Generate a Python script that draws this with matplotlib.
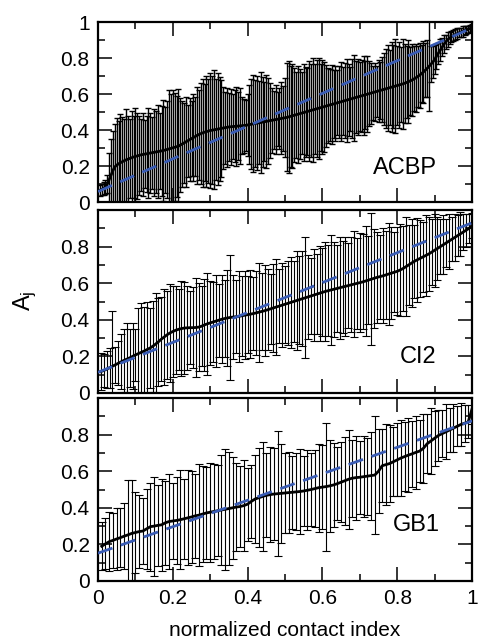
import numpy as np
import matplotlib
matplotlib.use("Agg")
import matplotlib.pyplot as plt
from matplotlib.ticker import MultipleLocator, FixedLocator

plt.rcParams['font.family'] = ['Liberation Sans', 'DejaVu Sans']

# ---------------- data ----------------
acbp_mean = [
    .065, .07, .075, .085, .10, .125, .15, .175, .195, .205, .212, .218, .224, .229, .234, .238, .242, .246, .25, .253,
    .256, .259, .262, .264, .266, .268, .27, .272, .274, .276, .278, .28, .282, .284, .286, .289, .292, .295, .298, .301,
    .304, .307, .31, .316, .322, .328, .334, .34, .346, .352, .358, .364, .37, .375, .38, .384, .388, .391, .394, .397,
    .399, .401, .403, .405, .407, .409, .411, .413, .415, .417, .418, .419, .42, .421, .422, .423, .424, .425, .426, .428,
    .43, .432, .434, .436, .438, .44, .442, .444, .446, .448, .45, .452, .454, .456, .458, .46, .462, .464, .466, .468,
    .47, .473, .476, .479, .482, .485, .488, .491, .494, .497, .50, .503, .506, .509, .512, .515, .518, .521, .524, .527,
    .53, .533, .536, .539, .542, .545, .548, .551, .554, .557, .56, .563, .566, .569, .572, .575, .578, .581, .584, .587,
    .59, .593, .596, .599, .602, .605, .608, .611, .614, .617, .62, .623, .626, .629, .632, .635, .638, .641, .644, .647,
    .65, .653, .656, .66, .664, .668, .673, .678, .684, .69, .697, .705, .713, .722, .732, .742, .753, .765, .777, .79,
    .81, .826, .843, .86, .876, .89, .902, .911, .918, .924, .93, .935, .94, .944, .948, .952, .956, .96, .964, .968,
]
acbp_err = [
    .03, .03, .035, .04, .05, .15, .2, .22, .24, .26, .24, .27, .25, .23, .28, .24, .22, .26, .23, .27,
    .24, .22, .2, .23, .19, .21, .25, .22, .2, .24, .23, .26, .21, .25, .28, .24, .27, .33, .3, .32,
    .3, .28, .32, .26, .24, .22, .25, .2, .23, .21, .24, .22, .27, .25, .28, .3, .27, .31, .29, .32,
    .3, .33, .28, .31, .29, .27, .23, .2, .22, .19, .21, .18, .2, .22, .19, .21, .16, .15, .14, .17,
    .22, .25, .27, .24, .26, .23, .28, .25, .22, .26, .24, .21, .18, .16, .19, .15, .17, .2, .18, .22,
    .3, .31, .28, .29, .26, .24, .27, .25, .23, .27, .25, .24, .28, .26, .29, .25, .27, .28, .24, .26,
    .25, .23, .21, .2, .22, .19, .21, .18, .2, .22, .19, .21, .23, .2, .18, .22, .24, .2, .21, .19,
    .2, .22, .19, .21, .18, .17, .15, .16, .14, .17, .16, .18, .2, .22, .24, .21, .25, .23, .26, .22,
    .24, .21, .25, .22, .2, .23, .19, .2, .18, .19, .17, .18, .16, .17, .15, .16, .25, .1, .09, .08,
    .07, .06, .06, .05, .05, .04, .04, .035, .03, .03, .03, .03, .025, .025, .03, .025, .02, .02, .02, .02,
]

ci2_mean = [
    .117, .123, .13, .138, .146, .154, .162, .17, .178, .185, .192, .2, .208,
    .215, .222, .229, .237, .245, .255, .267, .28, .294, .306, .318, .328, .336,
    .343, .348, .352, .355, .356, .357, .357, .358, .36, .365, .372, .378, .383,
    .388, .393, .398, .403, .407, .41, .413, .415, .417, .419, .422, .425, .428,
    .431, .434, .438, .442, .446, .45, .455, .46, .465, .47, .475, .48, .485,
    .49, .495, .5, .505, .51, .515, .52, .525, .53, .535, .54, .545, .55,
    .555, .559, .563, .567, .571, .575, .579, .583, .587, .591, .595, .599, .603,
    .607, .612, .617, .622, .627, .632, .636, .64, .645, .65, .655, .66, .665,
    .672, .68, .69, .7, .71, .72, .728, .736, .744, .752, .76, .77, .78,
    .79, .8, .81, .82, .83, .84, .85, .86, .87, .88, .89, .9, .915,
]
ci2_err = [
    .1, .09, .1, .11, .3, .1, .12, .15, .17, .2, .16, .18, .14,
    .25, .27, .24, .26, .22, .25, .28, .24, .23, .26, .24, .27, .25,
    .24, .22, .26, .25, .23, .2, .22, .27, .24, .22, .25, .28, .23,
    .22, .25, .2, .24, .21, .26, .34, .23, .2, .25, .22, .24, .21,
    .24, .2, .23, .27, .21, .25, .22, .19, .24, .26, .2, .23, .21,
    .23, .25, .22, .27, .24, .26, .33, .23, .21, .25, .22, .26, .24,
    .27, .25, .3, .26, .24, .28, .25, .27, .23, .26, .29, .25, .27,
    .26, .3, .24, .36, .27, .25, .23, .26, .24, .28, .25, .22, .24,
    .25, .23, .27, .22, .24, .2, .23, .21, .19, .22, .2, .18, .2,
    .17, .15, .16, .13, .15, .12, .13, .11, .12, .1, .09, .08, .07,
]

gb1_mean = [
    .19, .203, .215, .222, .23, .237, .245, .252, .26, .265,
    .27, .273, .285, .297, .3, .304, .307, .318, .325, .328,
    .331, .335, .34, .345, .35, .356, .36, .366, .372, .376,
    .38, .384, .388, .392, .396, .4, .404, .407, .412, .42,
    .435, .448, .455, .462, .468, .472, .475, .477, .479, .481,
    .483, .485, .487, .489, .492, .496, .5, .505, .51, .513,
    .516, .52, .525, .532, .54, .548, .556, .562, .565, .567,
    .57, .573, .576, .579, .6, .63, .636, .642, .652, .662,
    .672, .68, .688, .695, .703, .71, .725, .75, .765, .78,
    .795, .805, .815, .825, .835, .845, .855, .862, .87, .94,
]
gb1_err = [
    .13, .14, .16, .15, .17, .16, .18, .3, .29, .22,
    .2, .18, .22, .24, .27, .22, .25, .23, .26, .21,
    .24, .27, .22, .26, .25, .23, .28, .26, .25, .27,
    .26, .25, .3, .33, .31, .28, .24, .22, .25, .2,
    .2, .24, .27, .3, .23, .26, .25, .34, .27, .22,
    .22, .2, .21, .23, .19, .22, .2, .21, .24, .23,
    .35, .25, .23, .2, .22, .24, .27, .21, .23, .2,
    .22, .21, .24, .32, .23, .2, .22, .21, .19, .2,
    .21, .19, .2, .18, .2, .17, .19, .16, .18, .15,
    .14, .13, .15, .12, .13, .11, .12, .1, .09, .08,
]

# linear fits: values at x = 0 and x = 1
fit_x = [0.0, 1.0]
acbp_fit = [0.058, 0.967]
ci2_fit = [0.113, 0.93]
gb1_fit = [0.152, 0.875]

panel_names = ["ACBP", "CI2", "GB1"]
xtick_vals = [0, 0.2, 0.4, 0.6, 0.8, 1.0]
xtick_labels = ["0", "0.2", "0.4", "0.6", "0.8", "1"]
ytick_vals_top = [0, 0.2, 0.4, 0.6, 0.8, 1.0]
ytick_labels_top = ["0", "0.2", "0.4", "0.6", "0.8", "1"]
ytick_vals = [0, 0.2, 0.4, 0.6, 0.8]
ytick_labels = ["0", "0.2", "0.4", "0.6", "0.8"]

# ---------------- figure ----------------
W, H = 478, 639
fig = plt.figure(figsize=(W / 100, H / 100), dpi=100)

def frac(left, top, right, bottom):
    return [left / W, 1 - bottom / H, (right - left) / W, (bottom - top) / H]

R = 472
ax1 = fig.add_axes(frac(98, 22, R, 202))
ax2 = fig.add_axes(frac(98, 210, R, 393))
ax3 = fig.add_axes(frac(98, 398, R, 581))

fit_color = "#3a5cb4"

panels = [
    (ax1, acbp_mean, acbp_err, acbp_fit, 0.905, 0.19, 2.5, 1.0),
    (ax2, ci2_mean, ci2_err, ci2_fit, 0.905, 0.197, 3.0, 0.8),
    (ax3, gb1_mean, gb1_err, gb1_fit, 0.915, 0.306, 3.0, 0.8),
]

for k, (ax, mean, err, fit, lx, ly, cap, elw) in enumerate(panels):
    n = len(mean)
    x = np.arange(1, n + 1) / n
    ax.errorbar(x, mean, yerr=err, fmt="none", ecolor="black",
                elinewidth=elw, capsize=cap, capthick=elw, zorder=2)
    ax.plot(x, mean, color="black", lw=2.0, zorder=3)
    ax.plot(fit_x, fit, color=fit_color, lw=2.0, dashes=(5.5, 3.2), zorder=4)
    ax.set_xlim(0, 1)
    ax.set_ylim(0, 1)
    ax.xaxis.set_major_locator(FixedLocator(xtick_vals))
    ax.xaxis.set_minor_locator(MultipleLocator(0.1))
    if k == 0:
        ax.set_yticks(ytick_vals_top)
        ax.set_yticklabels(ytick_labels_top)
    else:
        ax.set_yticks(ytick_vals)
        ax.set_yticklabels(ytick_labels)
    ax.yaxis.set_minor_locator(MultipleLocator(0.1))
    ax.tick_params(which="both", direction="in", top=True, right=True,
                   labelsize=15, width=1.1, pad=6)
    ax.tick_params(which="major", length=10)
    ax.tick_params(which="minor", length=5)
    for sp in ax.spines.values():
        sp.set_linewidth(1.6)
    if k < 2:
        ax.tick_params(labelbottom=False)
    else:
        ax.set_xticklabels(xtick_labels)
    ax.text(lx, ly, panel_names[k], transform=ax.transData,
            ha="right", va="center", fontsize=17)

ax3.set_xlabel("normalized contact index", fontsize=15, labelpad=9)
fig.text(25 / W, 1 - 301 / H, r"$\mathregular{A_j}$", rotation=90,
         ha="center", va="center", fontsize=17)

fig.savefig("out.png", dpi=100)
